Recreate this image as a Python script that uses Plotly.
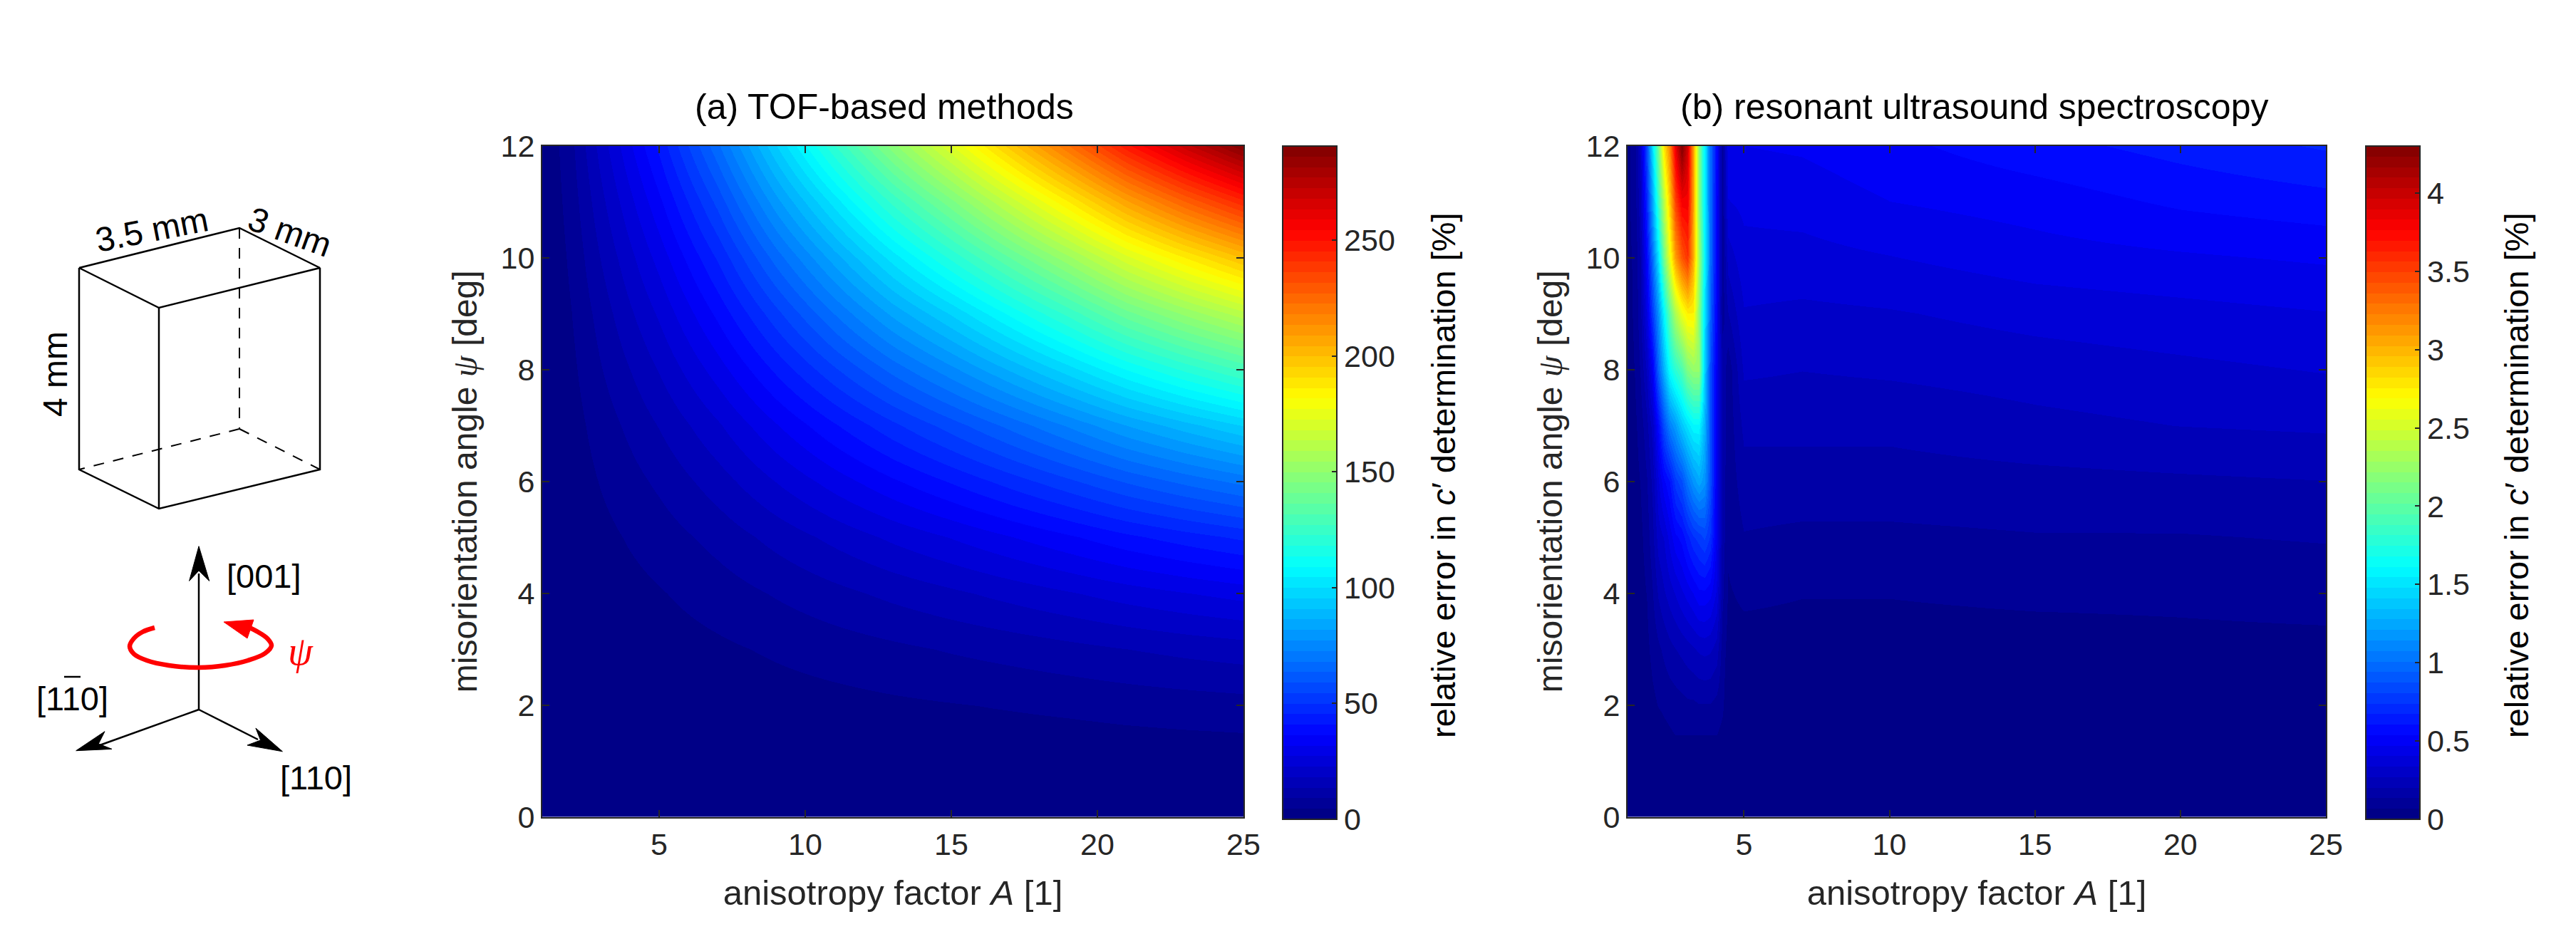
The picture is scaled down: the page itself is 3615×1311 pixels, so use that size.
import numpy as np
import plotly.graph_objects as go

W, H = 3615, 1311
FONT = "Liberation Sans"
INK = "#262626"

# panel (a): relative error [%]
a_aniso = [1, 2, 3, 4, 5, 7, 9, 11, 13, 15, 17, 19, 21, 23, 25]
a_angle = [0, 1, 2, 3, 4, 5, 6, 7, 8, 9, 10, 11, 12]
a_error = [
    [0, 0, 0, 0, 0, 0, 0, 0, 0, 0, 0, 0, 0, 0, 0],
    [0, 0, 0.1, 0.2, 0.3, 0.4, 0.6, 0.7, 0.9, 1, 1.2, 1.3, 1.5, 1.6, 1.7],
    [0, 0.2, 0.5, 0.8, 1, 1.7, 2.4, 3, 3.7, 4.3, 4.9, 5.5, 6.2, 6.8, 7.3],
    [0, 0.4, 1.1, 1.7, 2.3, 3.7, 5.2, 6.7, 8.1, 9.5, 10.8, 12.2, 13.6, 14.9, 16],
    [0, 0.8, 2, 3.1, 4.2, 6.7, 9.5, 12.2, 14.8, 17.2, 19.7, 22.2, 24.8, 27, 29],
    [0, 1.3, 3.2, 5, 6.7, 10.7, 15.2, 19.5, 23.7, 27.5, 31.5, 35.5, 39.7, 43.2, 46.4],
    [0, 1.9, 4.8, 7.4, 10, 16, 22.8, 29.3, 35.5, 41.3, 47.3, 53.3, 59.5, 64.8, 69.6],
    [0, 2.6, 6.6, 10.2, 13.9, 22, 31.4, 40.3, 48.8, 56.8, 65, 73.3, 81.8, 89, 95.7],
    [0, 3.5, 8.8, 13.6, 18.5, 29.5, 41.8, 53.7, 65.1, 75.7, 86.7, 97.7, 109, 119, 128],
    [0, 4.5, 11, 17.4, 23.5, 37.5, 53, 68.3, 83, 96, 110, 124, 139, 151, 162],
    [0, 5.5, 13.8, 21.4, 29, 46, 65.6, 84, 102, 119, 136, 153, 171, 186, 200],
    [0, 6.7, 16.8, 26, 35.3, 56, 80, 102, 124, 144, 165, 186, 208, 227, 244],
    [0, 8, 20, 31, 42, 67, 95, 122, 148, 172, 197, 222, 248, 270, 290],
]
a_max = 290.6
a_ticks = [0, 50, 100, 150, 200, 250]

# panel (b)
b_aniso = [1, 1.25, 1.45, 1.65, 1.85, 2.05, 2.25, 2.45, 2.65, 2.85, 3.05, 3.25,
           3.45, 3.65, 3.85, 4.05, 4.25, 4.45, 5, 7, 10, 15, 20, 25]
b_angle = [0, 1, 1.5, 2, 3, 4, 5, 6, 7, 8, 9, 10, 11, 12]
b_error = [
    [0] * 24,
    [0, 0, 0, 0.01, 0.01, 0.02, 0.02, 0.03, 0.03, 0.03, 0.03, 0.03, 0.03, 0.03, 0.03, 0.03, 0.02, 0.01, 0, 0, 0, 0, 0, 0],
    [0, 0, 0.01, 0.01, 0.02, 0.03, 0.05, 0.06, 0.07, 0.07, 0.07, 0.07, 0.07, 0.07, 0.07, 0.07, 0.05, 0.01, 0.01, 0.01, 0.01, 0.01, 0.01, 0.01],
    [0, 0.01, 0.01, 0.03, 0.05, 0.07, 0.08, 0.09, 0.1, 0.11, 0.12, 0.12, 0.13, 0.13, 0.13, 0.11, 0.08, 0.02, 0.01, 0.01, 0.01, 0.01, 0.01, 0.02],
    [0.01, 0.01, 0.03, 0.05, 0.09, 0.12, 0.15, 0.18, 0.2, 0.22, 0.24, 0.26, 0.28, 0.29, 0.28, 0.24, 0.1, 0.04, 0.04, 0.04, 0.04, 0.04, 0.05, 0.05],
    [0.01, 0.02, 0.04, 0.07, 0.13, 0.21, 0.26, 0.3, 0.34, 0.39, 0.43, 0.47, 0.52, 0.52, 0.49, 0.39, 0.15, 0.06, 0.08, 0.07, 0.07, 0.08, 0.08, 0.09],
    [0.02, 0.03, 0.05, 0.1, 0.18, 0.3, 0.34, 0.43, 0.52, 0.56, 0.65, 0.73, 0.77, 0.82, 0.73, 0.45, 0.17, 0.08, 0.13, 0.12, 0.12, 0.13, 0.13, 0.14],
    [0.02, 0.04, 0.07, 0.13, 0.22, 0.39, 0.52, 0.6, 0.77, 0.86, 1.03, 1.16, 1.25, 1.16, 0.86, 0.45, 0.17, 0.09, 0.17, 0.17, 0.17, 0.18, 0.19, 0.2],
    [0.02, 0.05, 0.1, 0.18, 0.3, 0.56, 0.86, 1.08, 1.2, 1.38, 1.5, 1.6, 1.6, 1.3, 0.86, 0.47, 0.2, 0.09, 0.22, 0.22, 0.22, 0.25, 0.27, 0.28],
    [0.03, 0.07, 0.14, 0.28, 0.5, 0.95, 1.3, 1.63, 1.8, 1.93, 2.15, 2.24, 2.24, 1.42, 0.86, 0.47, 0.2, 0.09, 0.28, 0.27, 0.28, 0.3, 0.32, 0.34],
    [0.04, 0.08, 0.18, 0.42, 0.78, 1.15, 1.6, 2.0, 2.35, 2.6, 2.75, 2.75, 2.2, 1.5, 0.95, 0.5, 0.1, 0.2, 0.33, 0.32, 0.33, 0.36, 0.38, 0.4],
    [0.05, 0.08, 0.2, 0.55, 1.0, 1.5, 2.1, 2.6, 3.1, 3.4, 3.55, 3.05, 2.3, 1.6, 1.0, 0.52, 0.1, 0.3, 0.38, 0.38, 0.4, 0.44, 0.46, 0.48],
    [0.05, 0.1, 0.25, 0.7, 1.25, 1.85, 2.4, 2.9, 3.5, 3.8, 3.8, 3.1, 2.2, 1.55, 1.0, 0.52, 0.1, 0.4, 0.42, 0.43, 0.47, 0.5, 0.55, 0.58],
    [0.05, 0.1, 0.3, 0.85, 1.5, 2.1, 2.8, 3.2, 3.85, 4.3, 3.95, 3.1, 2.2, 1.55, 1.0, 0.55, 0.1, 0.45, 0.47, 0.48, 0.52, 0.58, 0.63, 0.68],
]
b_max = 4.3
b_ticks = [0, 0.5, 1, 1.5, 2, 2.5, 3, 3.5, 4]
b_ticktext = ["0", "0.5", "1", "1.5", "2", "2.5", "3", "3.5", "4"]

x_ticks = [5, 10, 15, 20, 25]
y_ticks = [0, 2, 4, 6, 8, 10, 12]

# matlab jet anchors, cut in 64 flat levels
jet_pos = [0, 0.125, 0.375, 0.625, 0.875, 1]
jet_r = [0, 0, 0, 1, 1, 0.5]
jet_g = [0, 0, 1, 1, 0, 0]
jet_b = [0.5, 1, 1, 0, 0, 0]
N_LEVELS = 64
jet64 = []
for i in range(N_LEVELS):
    t = (i + 0.5) / N_LEVELS
    rgb = [int(round(255 * np.interp(t, jet_pos, c))) for c in (jet_r, jet_g, jet_b)]
    col = f"rgb({rgb[0]},{rgb[1]},{rgb[2]})"
    jet64.append([i / N_LEVELS, col])
    jet64.append([(i + 1) / N_LEVELS, col])

# sketch on the left, in page pixels
box_solid = [
    ([111, 336, 449, 223, 111], [376, 320, 376, 432, 376]),
    ([111, 111, 223, 449, 449], [376, 659, 714, 659, 376]),
    ([223, 223], [432, 714]),
]
box_dashed = [
    ([336, 336], [320, 602]),
    ([336, 111], [602, 659]),
    ([336, 449], [602, 659]),
]
axis_lines = [
    ([279, 279], [996, 805]),
    ([279, 140], [996, 1046]),
    ([279, 362], [996, 1038]),
    ([90, 113], [950, 950]),  # bar over the second 1 of [110]
]
arrow_heads = [
    ([279, 265.6, 279, 293.7, 279], [766.7, 815.4, 801, 815.4, 766.7]),
    ([106.7, 147, 138.3, 157, 106.7], [1053.7, 1026.7, 1044, 1051.4, 1053.7]),
    ([396.4, 358.9, 365.6, 347, 396.4], [1054.8, 1022, 1039, 1046, 1054.8]),
]
spin_x = [217, 200, 188, 182, 188, 206, 237, 279, 316, 348, 372, 381, 375, 362, 348]
spin_y = [881, 887, 896, 907, 918, 927, 934, 937, 934, 927, 917, 906, 896, 887, 880]
spin_head_x = [314, 356, 347, 314]
spin_head_y = [873, 870, 896, 873]


def add_map(fig, x, y, z, zmax, xa, ya, cb_left, cb_ticks, cb_text=None):
    fig.add_trace(
        go.Heatmap(
            x=x,
            y=y,
            z=z,
            zmin=0,
            zmax=zmax,
            zsmooth="best",
            colorscale=jet64,
            xaxis=xa,
            yaxis=ya,
            colorbar=dict(
                x=cb_left / W,
                xanchor="left",
                xref="paper",
                y=1 - 1150 / H,
                yanchor="bottom",
                yref="paper",
                len=945,
                lenmode="pixels",
                thickness=76,
                thicknessmode="pixels",
                xpad=0,
                ypad=0,
                outlinecolor=INK,
                outlinewidth=2,
                ticks="inside",
                ticklen=8,
                tickwidth=2,
                tickcolor=INK,
                tickmode="array",
                tickvals=cb_ticks,
                ticktext=cb_text,
                tickfont=dict(family=FONT, size=43, color=INK),
            ),
        )
    )


fig = go.Figure()
add_map(fig, a_aniso, a_angle, a_error, a_max, "x", "y", 1800, a_ticks)
add_map(fig, b_aniso, b_angle, b_error, b_max, "x2", "y2", 3320, b_ticks, b_ticktext)

for xs, ys in box_solid + axis_lines:
    fig.add_trace(go.Scatter(x=xs, y=ys, mode="lines", line=dict(color="black", width=2.5), xaxis="x3", yaxis="y3", showlegend=False))
for xs, ys in box_dashed:
    fig.add_trace(go.Scatter(x=xs, y=ys, mode="lines", line=dict(color="black", width=2, dash="15px,13px"), xaxis="x3", yaxis="y3", showlegend=False))
for xs, ys in arrow_heads:
    fig.add_trace(go.Scatter(x=xs, y=ys, mode="lines", fill="toself", fillcolor="black", line=dict(color="black", width=1), xaxis="x3", yaxis="y3", showlegend=False))
fig.add_trace(go.Scatter(x=spin_x, y=spin_y, mode="lines", line=dict(color="#ff0000", width=6.5, shape="spline"), xaxis="x3", yaxis="y3", showlegend=False))
fig.add_trace(go.Scatter(x=spin_head_x, y=spin_head_y, mode="lines", fill="toself", fillcolor="#ff0000", line=dict(color="#ff0000", width=1), xaxis="x3", yaxis="y3", showlegend=False))


def sketch_text(text, x, y, size=42, angle=0, color="black"):
    return dict(text=text, x=x, y=y, xref="x3", yref="y3", showarrow=False, textangle=angle,
                xanchor="center", yanchor="middle",
                font=dict(family=FONT, size=size, color=color))


def panel_title(text, x):
    return dict(text=text, x=x / W, y=1 - 150 / H, xref="paper", yref="paper", showarrow=False,
                xanchor="center", yanchor="middle",
                font=dict(family=FONT, size=50, color="black"))


psi = '<span style="font-family:Liberation Serif"><i>ψ</i></span>'
cb_title = "relative error in <i>c</i>′ determination [%]"
annotations = [
    sketch_text("3.5 mm", 213, 322, 48, -11),
    sketch_text("3 mm", 407, 325, 48, 20),
    sketch_text("4 mm", 77, 525, 48, -90),
    sketch_text("[001]", 370, 808, 47),
    sketch_text("[110]", 101, 980, 47),
    sketch_text("[110]", 443, 1091, 47),
    sketch_text(psi, 422, 914, 56, 0, "#ff0000"),
    sketch_text(cb_title, 2025, 667, 47, -90),
    sketch_text(cb_title, 3531, 667, 47, -90),
    panel_title("(a) TOF-based methods", 1241),
    panel_title("(b) resonant ultrasound spectroscopy", 2770),
]

common_x = dict(
    range=[1, 25], tickmode="array", tickvals=x_ticks, ticks="inside", ticklen=10, tickwidth=2, tickcolor=INK,
    showline=True, linecolor=INK, linewidth=2, mirror="ticks", showgrid=False, zeroline=False,
    tickfont=dict(family=FONT, size=43, color=INK), automargin=False,
    title=dict(text="anisotropy factor <i>A</i> [1]", standoff=28, font=dict(family=FONT, size=49, color=INK)),
)
common_y = dict(
    range=[0, 12], tickmode="array", tickvals=y_ticks, ticks="inside", ticklen=10, tickwidth=2, tickcolor=INK,
    showline=True, linecolor=INK, linewidth=2, mirror="ticks", showgrid=False, zeroline=False,
    tickfont=dict(family=FONT, size=43, color=INK), automargin=False,
    title=dict(text="misorientation angle " + psi + " [deg]", standoff=18, font=dict(family=FONT, size=48, color=INK)),
)
y_dom = [1 - 1146.5 / H, 1 - 205 / H]

fig.update_layout(
    width=W,
    height=H,
    margin=dict(l=0, r=0, t=0, b=0),
    paper_bgcolor="white",
    plot_bgcolor="rgba(0,0,0,0)",
    showlegend=False,
    xaxis=dict(domain=[761 / W, 1745 / W], anchor="y", **common_x),
    yaxis=dict(domain=y_dom, anchor="x", **common_y),
    xaxis2=dict(domain=[2284 / W, 3264 / W], anchor="y2", **common_x),
    yaxis2=dict(domain=y_dom, anchor="x2", **common_y),
    xaxis3=dict(domain=[0, 1], range=[0, W], visible=False, anchor="y3"),
    yaxis3=dict(domain=[0, 1], range=[H, 0], visible=False, anchor="x3"),
    annotations=annotations,
)

fig.write_html(
    "out.html",
    config={"displayModeBar": False},
    post_script="document.body.style.margin='0';document.body.style.overflow='hidden';",
)
